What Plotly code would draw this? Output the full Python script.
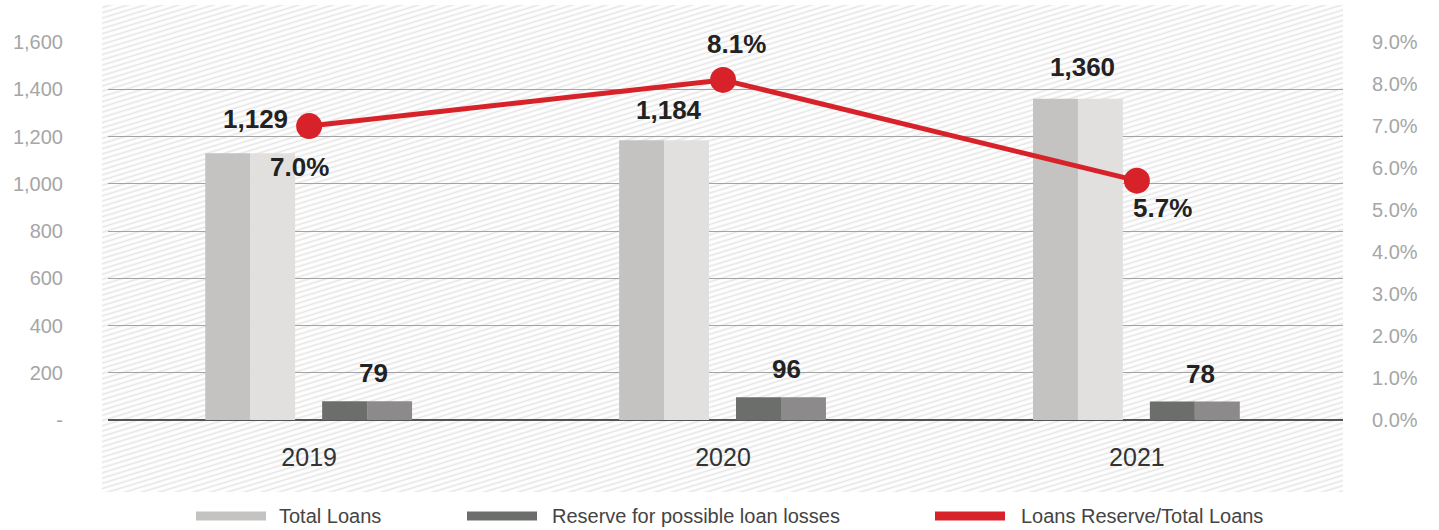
import base64
import plotly.graph_objects as go

# ---------------- data ----------------
years = ["2019", "2020", "2021"]
total_loans = [1129, 1184, 1360]
reserve = [79, 96, 78]
ratio_pct = [7.0, 8.1, 5.7]
series_names = ["Total Loans", "Reserve for possible loan losses", "Loans Reserve/Total Loans"]
left_tickvals = [0, 200, 400, 600, 800, 1000, 1200, 1400, 1600]
left_ticktext = ["-", "200", "400", "600", "800", "1,000", "1,200", "1,400", "1,600"]
right_tickvals = [0, 1, 2, 3, 4, 5, 6, 7, 8, 9]
right_ticktext = [f"{v:.1f}%" for v in right_tickvals]

# ---------------- styling ----------------
W, H = 1439, 530
ML, MR, MT, MB = 108, 96, 42, 110
PW, PH = W - ML - MR, H - MT - MB
FONT = "Liberation Sans, Arial, Helvetica, sans-serif"
TL_COLORS = ("#c4c3c1", "#e1e0de")
RS_COLORS = ("#6c6e6c", "#8c8a8b")
RED = "#d8222a"
HALF_W = 0.1087
TL_OFFS = (-0.251, -0.1425)
RS_OFFS = (0.0314, 0.140)
PCT_SHIFTS = [(-10, -41), (13, 36), (26, -27)]
TL_LABEL_SHIFT = [34, 30, 32]


def px2paper_x(px):
    return (px - ML) / PW


def px2paper_y(py):
    return (H - MB - py) / PH


fig = go.Figure()

# two-tone bars (each bar drawn as a darker left half and lighter right half)
for vals, offs, cols, name in [
    (total_loans, TL_OFFS, TL_COLORS, series_names[0]),
    (reserve, RS_OFFS, RS_COLORS, series_names[1]),
]:
    for off, col in zip(offs, cols):
        fig.add_trace(go.Bar(
            x=years, y=vals, name=name, offset=off, width=HALF_W,
            marker=dict(color=col, line=dict(width=0)),
            showlegend=False, hoverinfo="skip",
        ))

fig.add_trace(go.Scatter(
    x=years, y=ratio_pct, yaxis="y2", mode="lines+markers", name=series_names[2],
    line=dict(color=RED, width=5), marker=dict(color=RED, size=26),
    showlegend=False, cliponaxis=False,
))

annotations = []
label_font = dict(family=FONT, size=26, color="#222222", weight="bold")
for i, v in enumerate(total_loans):
    annotations.append(dict(x=i + (TL_OFFS[0] + TL_OFFS[1]) / 2 + HALF_W / 2, y=v, xref="x", yref="y",
                            text=f"{v:,}", showarrow=False, font=label_font,
                            yshift=TL_LABEL_SHIFT[i], xshift=5))
for i, v in enumerate(reserve):
    annotations.append(dict(x=i + (RS_OFFS[0] + RS_OFFS[1]) / 2 + HALF_W / 2, y=v, xref="x", yref="y",
                            text=f"{v:,}", showarrow=False, font=label_font,
                            yshift=28, xshift=6))
for i, v in enumerate(ratio_pct):
    dx, dy = PCT_SHIFTS[i]
    annotations.append(dict(x=i, y=v, xref="x", yref="y2", text=f"{v:.1f}%",
                            showarrow=False, font=label_font, xshift=dx, yshift=dy))

# custom legend
legend_items = [
    (196, 266, 277, TL_COLORS[0], series_names[0]),
    (467, 537, 550, RS_COLORS[0], series_names[1]),
    (935, 1005, 1019, RED, series_names[2]),
]
shapes = []
ly = 516
for x0, x1, tx, col, name in legend_items:
    shapes.append(dict(type="rect", xref="paper", yref="paper",
                       x0=px2paper_x(x0), x1=px2paper_x(x1),
                       y0=px2paper_y(ly + 4.5), y1=px2paper_y(ly - 4.5),
                       fillcolor=col, line=dict(width=0), layer="above"))
    annotations.append(dict(x=px2paper_x(tx), y=px2paper_y(ly), xref="paper", yref="paper",
                            text=name, showarrow=False, xanchor="left", yanchor="middle",
                            font=dict(family=FONT, size=20, color="#444444")))

# hatched background as an SVG image
hx0, hx1, hy0, hy1 = 102, 1343, 5, 492
hw, hh = hx1 - hx0, hy1 - hy0
svg = (f"<svg xmlns='http://www.w3.org/2000/svg' width='{hw}' height='{hh}'>"
       "<defs><pattern id='h' width='14' height='5' patternUnits='userSpaceOnUse' "
       "patternTransform='rotate(-17)'>"
       "<line x1='-2' y1='2.5' x2='16' y2='2.5' stroke='#e5e5e5' stroke-width='1.6'/>"
       "</pattern></defs><rect width='100%' height='100%' fill='url(#h)'/></svg>")
src = "data:image/svg+xml;base64," + base64.b64encode(svg.encode()).decode()

fig.update_layout(
    width=W, height=H,
    margin=dict(l=ML, r=MR, t=MT, b=MB),
    paper_bgcolor="white", plot_bgcolor="rgba(0,0,0,0)",
    barmode="overlay", showlegend=False,
    font=dict(family=FONT),
    images=[dict(source=src, xref="paper", yref="paper",
                 x=px2paper_x(hx0), y=px2paper_y(hy0),
                 sizex=hw / PW, sizey=hh / PH, sizing="stretch",
                 xanchor="left", yanchor="top", layer="below")],
    xaxis=dict(type="category", range=[-0.486, 2.498], showgrid=False, zeroline=False,
               showline=False, ticks="", tickfont=dict(size=25, color="#333333", family=FONT),
               ticklabelstandoff=20),
    yaxis=dict(range=[0, 1600.5], tickvals=left_tickvals, ticktext=left_ticktext,
               showgrid=True, gridcolor="#a3a3a3", gridwidth=1,
               zeroline=True, zerolinecolor="#555555", zerolinewidth=1.5,
               showline=False, ticks="", tickfont=dict(size=20, color="#a6a6a6", family=FONT),
               ticklabelstandoff=44),
    yaxis2=dict(range=[0, 9.003], overlaying="y", side="right", tickvals=right_tickvals,
                ticktext=right_ticktext, showgrid=False, zeroline=False,
                showline=False, ticks="", tickfont=dict(size=20, color="#a6a6a6", family=FONT),
                ticklabelstandoff=28),
    annotations=annotations,
    shapes=shapes,
)

fig.write_html("out.html", config={"displayModeBar": False},
               post_script="document.body.style.margin='0';document.body.style.overflow='hidden';")
